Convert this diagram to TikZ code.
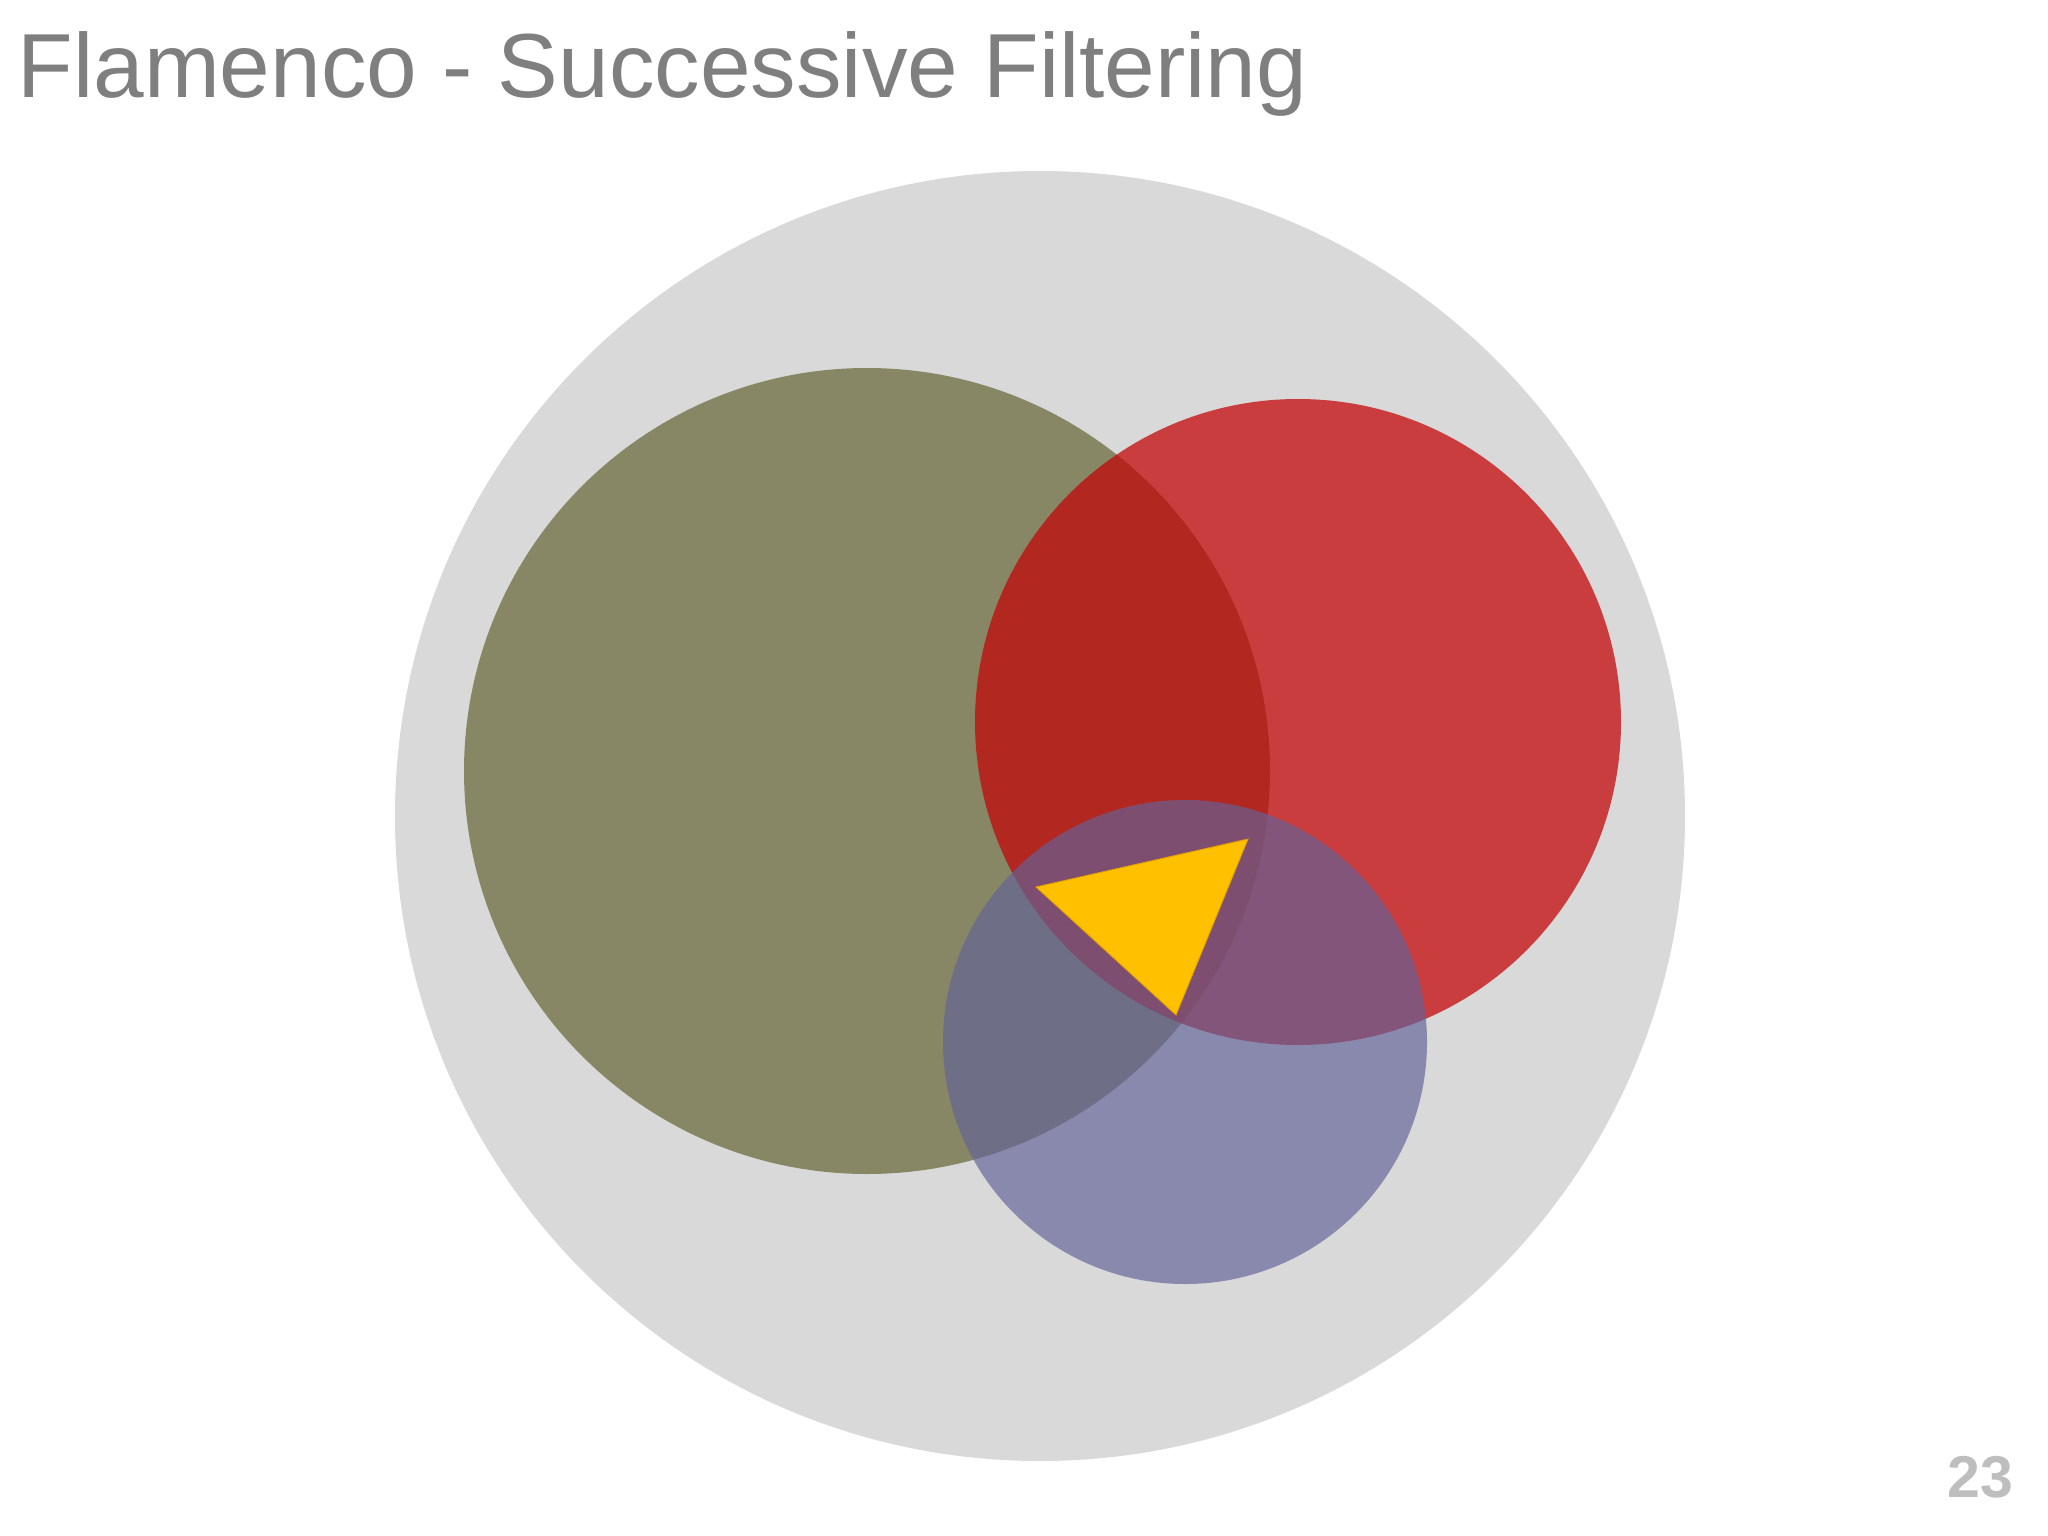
\documentclass[tikz,border=0pt]{standalone}
\usepackage{fontspec}
\setmainfont{Liberation Sans}
\definecolor{titlegray}{RGB}{127,127,127}
\definecolor{pagegray}{RGB}{190,190,190}
\definecolor{biggray}{RGB}{217,217,218}
\definecolor{olivec}{RGB}{135,135,102}
\definecolor{redc}{RGB}{195,2,4}
\definecolor{bluec}{RGB}{99,98,152}
\definecolor{yellowc}{RGB}{255,192,0}
\definecolor{yellowd}{RGB}{225,160,0}
\tikzset{
  setc/.style={draw=none},
}
\begin{document}
\begin{tikzpicture}[x=1pt,y=-1pt]
\useasboundingbox (0,0) rectangle (2048,1536);
\fill[white] (0,0) rectangle (2048,1536);
\fill[biggray, setc] (1040,816) circle[radius=645];
\fill[olivec, setc] (867,771) circle[radius=403];
\fill[redc, fill opacity=0.72, setc] (1298,722) circle[radius=323];
\fill[bluec, fill opacity=0.67, setc] (1185,1042) circle[radius=242];
\filldraw[fill=yellowc, draw=yellowd, line width=0.9pt, line join=miter] (1036,887) -- (1248,839) -- (1176,1015) -- cycle;
\node[anchor=base west, inner sep=0, text=titlegray, font=\fontsize{91}{100}\selectfont] (title) at (17.5,98) {Flamenco - Successive Filtering};
\node[anchor=base east, inner sep=0, text=pagegray, font=\bfseries\fontsize{59}{66}\selectfont] (pagenum) at (2013,1497) {23};
\end{tikzpicture}
\end{document}
